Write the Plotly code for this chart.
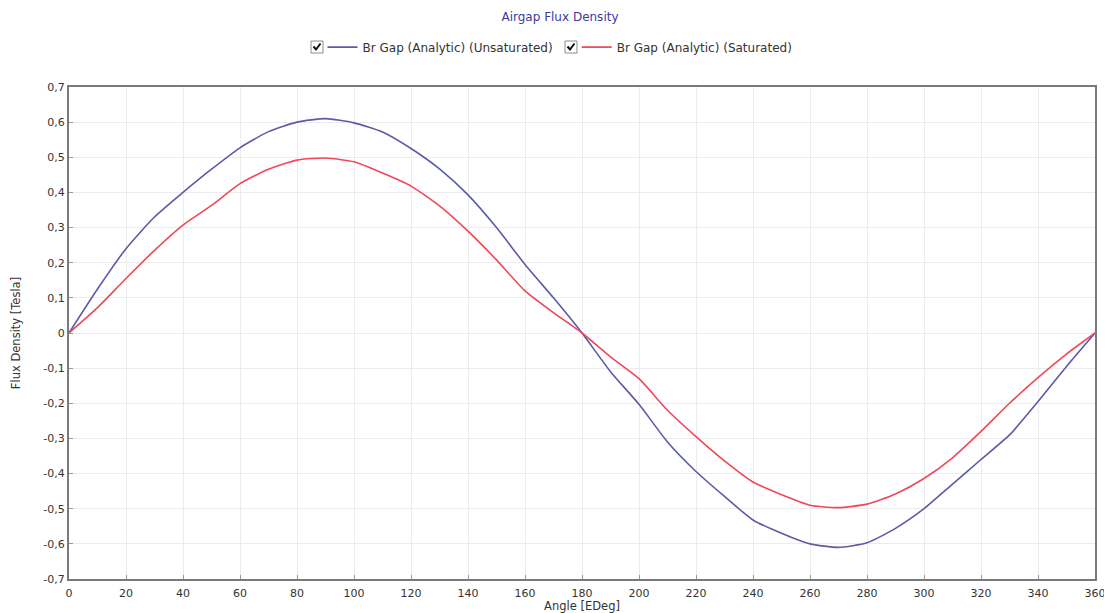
import plotly.graph_objects as go

angle = [0, 10, 20, 30, 40, 50, 60, 70, 80, 90, 100, 110, 120, 130, 140, 150, 160, 170, 180,
         190, 200, 210, 220, 230, 240, 250, 260, 270, 280, 290, 300, 310, 320, 330, 340, 350, 360]

br_unsat = [0, 0.125, 0.24, 0.33, 0.40, 0.466, 0.527, 0.573, 0.600, 0.610, 0.598, 0.572, 0.525,
            0.467, 0.393, 0.300, 0.195, 0.100, 0.0, -0.11, -0.203, -0.31, -0.394, -0.465, -0.532,
            -0.570, -0.600, -0.610, -0.597, -0.556, -0.500, -0.430, -0.360, -0.290, -0.195, -0.095, 0]

br_sat = [0, 0.072, 0.155, 0.235, 0.307, 0.363, 0.425, 0.466, 0.492, 0.498, 0.487, 0.455, 0.418,
          0.362, 0.290, 0.208, 0.120, 0.058, 0.0, -0.068, -0.130, -0.220, -0.295, -0.364, -0.424,
          -0.460, -0.490, -0.497, -0.487, -0.458, -0.414, -0.355, -0.280, -0.200, -0.127, -0.060, 0]

series_names = ["Br Gap (Analytic) (Unsaturated)", "Br Gap (Analytic) (Saturated)"]

x_ticks = list(range(0, 361, 20))
y_ticks = [-0.7, -0.6, -0.5, -0.4, -0.3, -0.2, -0.1, 0, 0.1, 0.2, 0.3, 0.4, 0.5, 0.6, 0.7]
y_labels = ["-0,7", "-0,6", "-0,5", "-0,4", "-0,3", "-0,2", "-0,1", "0",
            "0,1", "0,2", "0,3", "0,4", "0,5", "0,6", "0,7"]

FONT = "DejaVu Sans, Liberation Sans, Arial"
NBSP = "\u00a0"

fig = go.Figure()
fig.add_trace(go.Scatter(x=angle, y=br_unsat, mode="lines",
                         name=series_names[0] + NBSP * 5,
                         line=dict(color="#5b5ba8", width=1.6, shape="spline", smoothing=0.6)))
fig.add_trace(go.Scatter(x=angle, y=br_sat, mode="lines",
                         name=series_names[1],
                         line=dict(color="#f0475a", width=1.6, shape="spline", smoothing=0.6)))

axis_common = dict(showline=True, linecolor="#7a7a7a", linewidth=2, mirror=True,
                   showgrid=True, gridcolor="#ececec", gridwidth=1,
                   ticks="inside", ticklen=4, tickcolor="#9a9a9a", automargin=False,
                   zeroline=False, tickfont=dict(family=FONT, size=11, color="#333333"))

fig.update_xaxes(range=[0, 360], tickvals=x_ticks, ticklabelstandoff=3,
                 title=dict(text="Angle [EDeg]", font=dict(family=FONT, size=11.5, color="#333333"),
                            standoff=2),
                 **axis_common)
fig.update_yaxes(range=[-0.7, 0.7], tickvals=y_ticks, ticktext=y_labels,
                 title=dict(text="Flux Density [Tesla]", font=dict(family=FONT, size=11.5, color="#333333"),
                            standoff=20),
                 **axis_common)

# plot-area geometry on screen (for placing the legend check boxes)
PX_L, PX_R, PX_T, PX_B = 69, 1095, 87, 579


def px_x(s):
    return (s - PX_L) / (PX_R - PX_L)


def px_y(s):
    return (PX_B - s) / (PX_B - PX_T)


shapes = []
for bx in (311, 565):
    shapes.append(dict(type="rect", xref="paper", yref="paper",
                       x0=px_x(bx), x1=px_x(bx + 12), y0=px_y(53), y1=px_y(41),
                       line=dict(color="#8c8c8c", width=1), fillcolor="white"))
    path = "M {:.5f} {:.5f} L {:.5f} {:.5f} L {:.5f} {:.5f}".format(
        px_x(bx + 2.5), px_y(46.5), px_x(bx + 5), px_y(49.5), px_x(bx + 9.5), px_y(43.5))
    shapes.append(dict(type="path", xref="paper", yref="paper", path=path,
                       line=dict(color="#111111", width=2)))

fig.update_layout(
    width=1104, height=605,
    paper_bgcolor="white", plot_bgcolor="white",
    margin=dict(l=61, r=17, t=79, b=34, autoexpand=False),
    title=dict(text="Airgap Flux Density", x=0.5, xanchor="center", y=0.985, yanchor="middle",
               font=dict(family=FONT, size=12, color="#3a3aa0")),
    legend=dict(orientation="h", x=px_x(322.5), xanchor="left", y=1.081, yanchor="middle",
                font=dict(family=FONT, size=12, color="#333333"),
                itemwidth=30, tracegroupgap=0, bgcolor="rgba(0,0,0,0)"),
    showlegend=True,
    shapes=shapes,
)

fig.write_html("out.html")
